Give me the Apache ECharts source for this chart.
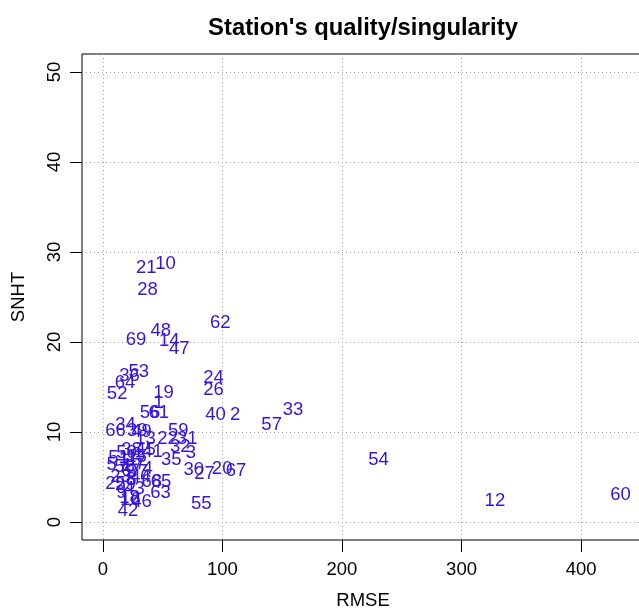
<!DOCTYPE html>
<html>
<head>
<meta charset="utf-8">
<script src="https://cdn.jsdelivr.net/npm/echarts@6/dist/echarts.min.js"></script>
<style>
  html, body { margin: 0; padding: 0; background: #fff; }
  #chart { width: 639px; height: 609px; }
</style>
</head>
<body>
<div id="chart"></div>
<script>
// station numbers with their RMSE / SNHT values
const stations = ['10', '21', '28', '62', '48', '14', '69', '47', '53', '24', '26', '19', '52', '1',
    '33', '40', '2', '56', '61', '57', '34', '66', '39', '59', '13', '22', '31', '32', '3', '54',
    '35', '30', '27', '20', '67', '68', '65', '63', '60', '12', '55', '16', '42', '45', '41',
    '5', '7', '4', '51', '25', '36', '64',
    '6', '8', '9', '11', '15', '17', '18', '23', '29', '37', '38', '43', '44', '46', '49', '50', '58'];
const rmse = [52.4, 36.4, 37.4, 98.2, 48.5, 55.5, 27.8, 64.0, 30.1, 92.6, 92.6, 50.8, 12.0, 46.6,
    159.0, 94.2, 110.7, 39.5, 46.8, 141.2, 19.0, 10.6, 28.8, 63.1, 35.7, 54.1, 70.6, 64.7, 73.7, 230.5,
    57.3, 76.1, 85.0, 99.8, 111.4, 41.0, 48.7, 48.2, 432.9, 327.9, 82.3, 23.2, 21.1, 35.8, 41.5,
    7.3, 31.5, 37.5, 13.2, 10.7, 22.4, 18.6,
    19.8, 24.0, 15.6, 21.5, 28.2, 24.8, 22.3, 14.8, 18.9, 29.0, 24.0, 26.5, 31.5, 32.4, 32.4, 19.8, 18.1];
const snht = [28.9, 28.4, 26.0, 22.3, 21.4, 20.3, 20.4, 19.4, 16.9, 16.2, 14.9, 14.6, 14.5, 13.4,
    12.7, 12.1, 12.1, 12.3, 12.3, 11.0, 11.0, 10.3, 10.3, 10.3, 9.5, 9.4, 9.4, 8.6, 7.9, 7.1,
    7.1, 6.0, 5.6, 6.1, 5.9, 4.7, 4.7, 3.4, 3.2, 2.6, 2.2, 2.7, 1.4, 8.2, 8.0,
    6.6, 6.7, 6.1, 7.3, 4.5, 16.4, 15.7,
    5.9, 4.9, 3.5, 7.1, 7.4, 6.5, 2.9, 5.2, 4.3, 5.8, 8.2, 3.9, 5.2, 2.4, 10.2, 7.9, 6.3];

const xTicks = [0, 100, 200, 300, 400];
const yTicks = [0, 10, 20, 30, 40, 50];

const chart = echarts.init(document.getElementById('chart'));
const labelColor = '#3414e0';
const gridColor = '#a0a0a0';
const font = 'Liberation Sans, Arial, sans-serif';

chart.setOption({
    animation: false,
    backgroundColor: '#fff',
    title: {
        text: "Station's quality/singularity",
        left: 358, top: 11, textAlign: 'center',
        textStyle: { fontFamily: font, fontSize: 23.8, fontWeight: 'bold', color: '#000' }
    },
    grid: {
        left: 82, top: 54, width: 562, height: 486, outerBoundsMode: 'none', containLabel: false,
        show: true, borderColor: '#000', borderWidth: 1, backgroundColor: 'transparent'
    },
    xAxis: {
        type: 'value', min: -17.4, max: 452.6,
        name: 'RMSE', nameLocation: 'middle', nameGap: 51,
        nameTextStyle: { fontFamily: font, fontSize: 18.5, color: '#000' },
        axisLine: { show: false, onZero: false },
        axisTick: { show: true, inside: false, length: 12, customValues: xTicks, lineStyle: { color: '#000' } },
        axisLabel: { customValues: xTicks, margin: 20, fontFamily: font, fontSize: 18.5, color: '#000' },
        splitLine: { show: true, lineStyle: { color: gridColor, type: [1, 3], width: 1 } }
    },
    yAxis: {
        type: 'value', min: -2, max: 52,
        name: 'SNHT', nameLocation: 'middle', nameGap: 54, nameRotate: 90,
        nameTextStyle: { fontFamily: font, fontSize: 18.5, color: '#000' },
        axisLine: { show: false, onZero: false },
        axisTick: { show: true, inside: false, length: 12, customValues: yTicks, lineStyle: { color: '#000' } },
        axisLabel: { customValues: yTicks, rotate: 90, margin: 18, fontFamily: font, fontSize: 18.5, color: '#000' },
        splitLine: { show: true, lineStyle: { color: gridColor, type: [1, 3], width: 1 } }
    },
    series: [{
        type: 'scatter',
        symbolSize: 1,
        itemStyle: { color: 'rgba(0,0,0,0)', opacity: 1 },
        data: stations.map((s, i) => [rmse[i], snht[i], s]),
        label: {
            show: true, position: 'inside', opacity: 1, offset: [0, 2],
            formatter: p => p.value[2],
            fontFamily: font, fontSize: 18.5, color: labelColor
        },
        emphasis: { disabled: true }
    }]
});
</script>
</body>
</html>
